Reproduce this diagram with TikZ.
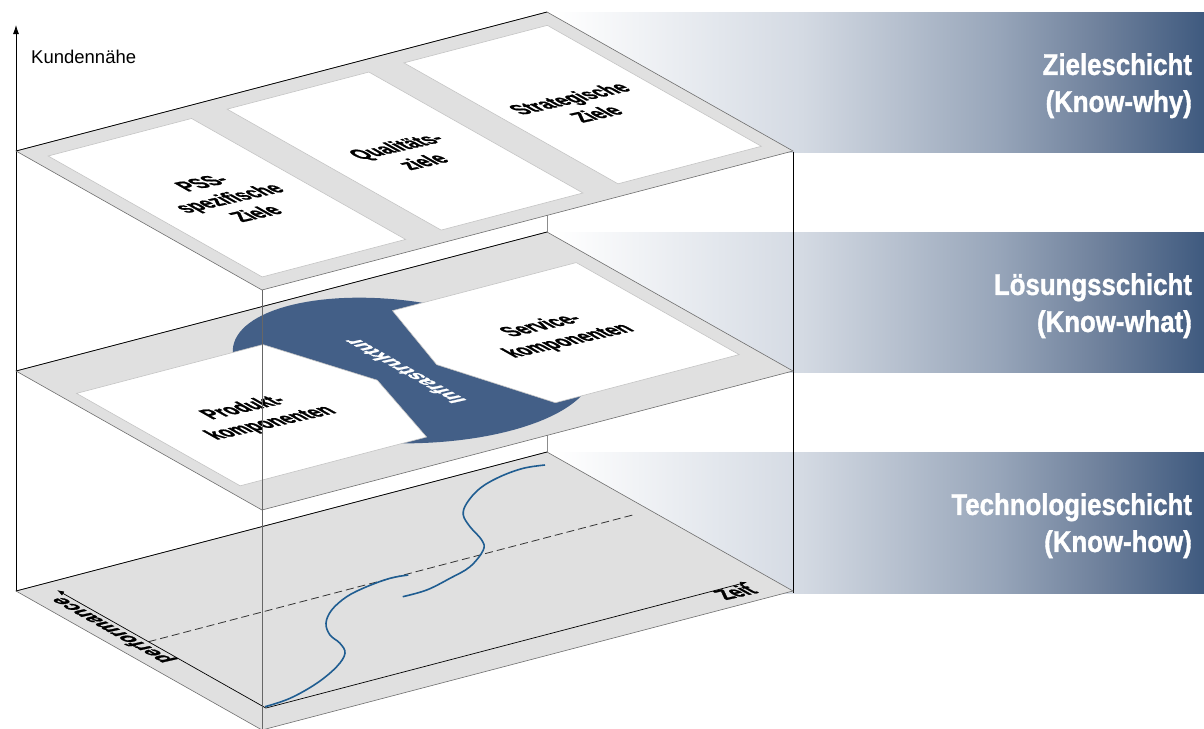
\documentclass[tikz,border=0pt]{standalone}
\usepackage{fontspec}
\setmainfont{Liberation Sans}
\newfontfamily\condfont[FakeStretch=0.86]{Liberation Sans}
\newfontfamily\heavyfont[FakeStretch=0.86, BoldFeatures={FakeBold=1.2}]{Liberation Sans}
\usetikzlibrary{arrows.meta}
\definecolor{laygray}{HTML}{E0E0E0}
\definecolor{edgegray}{HTML}{6E6E6E}
\definecolor{panelline}{HTML}{C4C4C4}
\definecolor{bandblue}{HTML}{3F5A7F}
\definecolor{bandA}{HTML}{D4DAE3}
\definecolor{bandB}{HTML}{98A6BA}
\definecolor{bandC}{HTML}{6F819C}
\definecolor{infblue}{HTML}{435F87}
\definecolor{curveblue}{HTML}{1F5D91}
\pgfdeclarehorizontalshading{bandshade}{100bp}{color(0bp)=(white); color(25bp)=(white); color(44bp)=(bandA); color(59bp)=(bandB); color(67bp)=(bandC); color(75bp)=(bandblue); color(100bp)=(bandblue)}
\tikzset{
  plane/.style={shift={(16pt,-#1pt)}, x={(531pt,139pt)}, y={(246pt,-139pt)}},
  layer/.style={fill=laygray, draw=edgegray, line width=0.6pt},
  backedge/.style={draw=black, line width=0.7pt},
  panel/.style={fill=white, draw=panelline, line width=0.6pt},
  band/.style={shading=bandshade},
  bandtxt/.style={text=white, font=\heavyfont\bfseries\fontsize{30}{37}\selectfont, align=right, inner sep=0pt, anchor=north east},
  paneltxt/.style={font=\heavyfont\bfseries\fontsize{12}{15}\selectfont, align=center, inner sep=0pt},
  rottxt/.style={font=\heavyfont\bfseries\fontsize{12}{15}\selectfont, inner sep=0pt, rotate=90},
  backline/.style={draw=black!45, line width=0.6pt},
  rightline/.style={draw=black, line width=0.8pt},
  frontline/.style={draw=black!60, line width=0.9pt},
  axisline/.style={draw=black, line width=0.8pt, -{Latex[length=9pt,width=6pt]}},
  planearrow/.style={draw=black, line width=0.7pt, -{Latex[length=7pt,width=4.5pt]}},
  dashline/.style={draw=black!80, line width=0.8pt, dash pattern=on 8pt off 4pt},
  curve/.style={draw=curveblue, line width=1.6pt},
}
% text lying in a layer plane
\newcommand\slabel[4]{%
  \begin{scope}[shift={(#1)}, cm={1.790,0.403,-1.802,1.018,(0,0)}, transform shape]
    \node[#3] (#2) at (0,0) {#4};
  \end{scope}}
\begin{document}
\begin{tikzpicture}[x=1pt,y=-1pt]
\useasboundingbox (0,0) rectangle (1204,728);
% bands
\fill[band] (555,12) rectangle (1204,152);
\fill[band] (555,232) rectangle (1204,372);
\fill[band] (555,452) rectangle (1204,593);
\node[bandtxt] (b1) at (1192,53) {Zieleschicht\\(Know-why)};
\node[bandtxt] (b2) at (1192,273) {Lösungsschicht\\(Know-what)};
\node[bandtxt] (b3) at (1192,493) {Technologieschicht\\(Know-how)};
% verticals behind
\draw[backline] (547,12) -- (547,452);
\draw[rightline] (793,152) -- (793,593);
\coordinate (ax0) at (16,591);
\coordinate (ax1) at (16,25);
\draw[axisline] (ax0) -- (ax1);
\node[anchor=base west, font=\fontsize{18.5}{22}\selectfont, inner sep=0pt] (kn) at (31,63) {Kundennähe};
% bottom layer
\begin{scope}[plane=591]
  \filldraw[layer] (0,0) -- (1,0) -- (1,1) -- (0,1) -- cycle;
  \draw[backedge] (0,0) -- (1,0);
  \coordinate (O) at (0.055,0.897);
  \coordinate (ztip) at (0.961,0.897);
  \coordinate (ptip) at (0.055,0.048);
  \coordinate (d1) at (0.055,0.42);
  \coordinate (d2) at (0.967,0.42);
  \coordinate (zc) at (0.923,0.93);
  \coordinate (pc) at (0.036,0.3166);
\end{scope}
\draw[dashline] (d1) -- (d2);
\draw[planearrow] (O) -- (ztip);
\draw[planearrow] (O) -- (ptip);
\draw[curve] plot[smooth, tension=0.6] coordinates {(265,706.7) (290,698.3) (316.7,683.3) (336.7,666.7) (345,653.3) (340,643.3) (330,635) (326,623.3) (331.7,610) (346.7,596.7) (366.7,586.7) (390,578.3) (408.3,575)};
\draw[curve] plot[smooth, tension=0.6] coordinates {(402.7,596.7) (426.7,590) (450,578.3) (470,566.7) (483.3,550) (481.7,540) (470,526.7) (463.3,515) (466.7,503.3) (480,488.3) (500,476.7) (523.3,468.3) (545,465)};
\slabel{zc}{zeit}{paneltxt}{Zeit}
\slabel{pc}{perf}{rottxt}{performance}
% middle layer
\begin{scope}[plane=371]
  \filldraw[layer] (0,0) -- (1,0) -- (1,1) -- (0,1) -- cycle;
  \draw[backedge] (0,0) -- (1,0);
  \fill[infblue] plot[domain=180:360, samples=60, variable=\t] ({0.5+0.235*cos(\t)},{0.48+0.45*sin(\t)}) -- plot[domain=0:180, samples=60, variable=\t] ({0.5+0.30*cos(\t)},{0.48+0.45*sin(\t)}) -- cycle;
  \filldraw[panel] (0.027,0.188) -- (0.378,0.188) -- (0.444,0.51) -- (0.378,0.853) -- (0.027,0.853) -- cycle;
  \filldraw[panel] (0.622,0.188) -- (0.968,0.188) -- (0.968,0.85) -- (0.622,0.85) -- (0.556,0.51) -- cycle;
  \coordinate (prc) at (0.21,0.53);
  \coordinate (svc) at (0.78,0.51);
  \coordinate (inc) at (0.5,0.5);
\end{scope}
\slabel{prc}{prod}{paneltxt}{Produkt-\\komponenten}
\slabel{svc}{serv}{paneltxt}{Service-\\komponenten}
\slabel{inc}{infra}{rottxt, text=white}{Infrastruktur}
% top layer
\begin{scope}[plane=151]
  \filldraw[layer] (0,0) -- (1,0) -- (1,1) -- (0,1) -- cycle;
  \draw[backedge] (0,0) -- (1,0);
  \filldraw[panel] (0.03,0.066) -- (0.30,0.066) -- (0.30,0.936) -- (0.03,0.936) -- cycle;
  \filldraw[panel] (0.367,0.066) -- (0.634,0.066) -- (0.634,0.936) -- (0.367,0.936) -- cycle;
  \filldraw[panel] (0.70,0.066) -- (0.97,0.066) -- (0.97,0.936) -- (0.70,0.936) -- cycle;
  \coordinate (t1) at (0.167,0.505);
  \coordinate (t2) at (0.50,0.52);
  \coordinate (t3) at (0.832,0.508);
\end{scope}
\slabel{t1}{pss}{paneltxt}{PSS-\\spezifische\\Ziele}
\slabel{t2}{qual}{paneltxt}{Qualitäts-\\ziele}
\slabel{t3}{strat}{paneltxt}{Strategische\\Ziele}
% front vertical
\coordinate (fv0) at (262,290);
\coordinate (fv1) at (262,730);
\draw[frontline] (fv0) -- (fv1);
\end{tikzpicture}
\end{document}
